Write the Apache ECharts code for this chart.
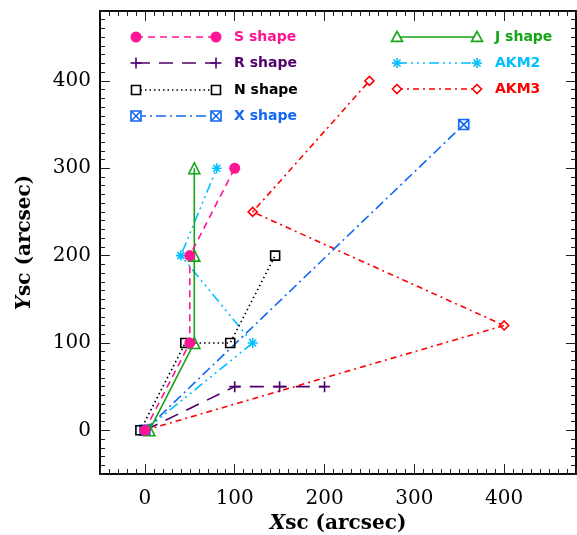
<!DOCTYPE html>
<html><head><meta charset="utf-8">
<script src="https://cdn.jsdelivr.net/npm/echarts@6/dist/echarts.min.js"></script>
<style>html,body{margin:0;padding:0;background:#fff}#c{width:577px;height:535px}</style>
</head><body><div id="c"></div>
<script>
// ---- data ----
const seriesNames = ['S shape','R shape','N shape','X shape','J shape','AKM2','AKM3'];
const sX = [0, 50, 50, 100];     const sY = [0, 100, 200, 300];
const rX = [0, 100, 150, 200];   const rY = [0, 50, 50, 50];
const nX = [-5, 45, 95, 145];    const nY = [0, 100, 100, 200];
const xX = [0, 355];             const xY = [0, 350];
const jX = [5, 55, 55, 55];      const jY = [0, 100, 200, 300];
const a2X = [0, 120, 40, 80];    const a2Y = [0, 100, 200, 300];
const a3X = [0, 400, 120, 250];  const a3Y = [0, 120, 250, 400];
const xTickLabels = [0, 100, 200, 300, 400];
const yTickLabels = [0, 100, 200, 300, 400];
const axisMin = -50, axisMax = 480, minorStep = 10;
const minorTickValues = [];
for (let v = axisMin; v <= axisMax; v += minorStep) minorTickValues.push(v);

// ---- styles ----
const P = {
  plus: 'M0,5L10,5M5,0L5,10',
  square: 'M0,0L10,0L10,10L0,10Z',
  xsquare: 'M0,0L10,0L10,10L0,10ZM0,0L10,10M10,0L0,10',
  triangle: 'M5,0L10,9L0,9Z',
  star: 'M5,0L5,10M0,5L10,5M1.5,1.5L8.5,8.5M8.5,1.5L1.5,8.5',
  diamond: 'M5,0L10,5L5,10L0,5Z'
};
const styles = {
  'S shape': {color:'#ff1493', dash:[7,5], sym:'circle', size:11},
  'R shape': {color:'#50006a', dash:[14,9], sym:'plus', size:11},
  'N shape': {color:'#000000', dash:[1.5,3], sym:'square', size:9},
  'X shape': {color:'#1068f5', dash:[10,4,2,4], sym:'xsquare', size:10},
  'J shape': {color:'#14a514', dash:null, sym:'triangle', size:11},
  'AKM2':    {color:'#00bfff', dash:[10,4,2,4,2,4,2,4], sym:'star', size:10},
  'AKM3':    {color:'#ff0000', dash:[6,4,2,4], sym:'diamond', size:9}
};
const dataMap = {
  'S shape':[sX,sY], 'R shape':[rX,rY], 'N shape':[nX,nY], 'X shape':[xX,xY],
  'J shape':[jX,jY], 'AKM2':[a2X,a2Y], 'AKM3':[a3X,a3Y]
};
const drawOrder = ['AKM3','AKM2','X shape','R shape','N shape','J shape','S shape'];

function mkSeries(name){
  const st = styles[name];
  const [xs, ys] = dataMap[name];
  const s = {
    name, type:'line', xAxisIndex:0, yAxisIndex:0,
    data: xs.map((x,i)=>[x, ys[i]]),
    symbolSize: st.size, animation:false, silent:true,
    lineStyle: {color: st.color, width:1.6, type: st.dash ? st.dash : 'solid'},
  };
  if (st.sym === 'circle') {
    s.symbol = 'circle';
    s.itemStyle = {color: st.color};
  } else {
    s.symbol = 'path://' + P[st.sym];
    s.symbolKeepAspect = false;
    s.itemStyle = {color:'rgba(0,0,0,0)', borderColor: st.color, borderWidth: 1.6};
  }
  return s;
}

// legend graphic (built from primitive shapes)
const legendLeft = ['S shape','R shape','N shape','X shape'];
const legendRight = ['J shape','AKM2','AKM3'];
const graphics = [];
function seg(x1,y1,x2,y2,color){
  return {type:'line', shape:{x1,y1,x2,y2}, style:{stroke:color, lineWidth:1.6}, z:100};
}
function marker(sym, cx, cy, size, color){
  const h = size/2;
  const stroke = {fill:'#fff', stroke:color, lineWidth:1.6};
  switch(sym){
    case 'circle': return [{type:'circle', shape:{cx, cy, r:h}, style:{fill:color}, z:100}];
    case 'square': return [{type:'rect', shape:{x:cx-h, y:cy-h, width:size, height:size}, style:stroke, z:100}];
    case 'xsquare': return [{type:'rect', shape:{x:cx-h, y:cy-h, width:size, height:size}, style:stroke, z:100},
                            seg(cx-h,cy-h,cx+h,cy+h,color), seg(cx+h,cy-h,cx-h,cy+h,color)];
    case 'plus': return [seg(cx-h,cy,cx+h,cy,color), seg(cx,cy-h,cx,cy+h,color)];
    case 'triangle': return [{type:'polygon', shape:{points:[[cx,cy-h],[cx+h,cy+h*0.8],[cx-h,cy+h*0.8]]}, style:stroke, z:100}];
    case 'diamond': return [{type:'polygon', shape:{points:[[cx,cy-h],[cx+h,cy],[cx,cy+h],[cx-h,cy]]}, style:stroke, z:100}];
    case 'star': { const d = h*0.7;
      return [seg(cx,cy-h,cx,cy+h,color), seg(cx-h,cy,cx+h,cy,color),
              seg(cx-d,cy-d,cx+d,cy+d,color), seg(cx+d,cy-d,cx-d,cy+d,color)]; }
  }
  return [];
}
function addLegend(names, x1, x2, tx, ys){
  names.forEach((n,i)=>{
    const st = styles[n]; const y = ys[i];
    graphics.push({type:'line', shape:{x1, y1:y, x2, y2:y},
      style:{stroke:st.color, lineWidth:1.6, lineDash: st.dash || null}, z:99});
    marker(st.sym, x1, y, st.size, st.color).forEach(e=>graphics.push(e));
    marker(st.sym, x2, y, st.size, st.color).forEach(e=>graphics.push(e));
    graphics.push({type:'text', x:tx, y:y, z:100,
      style:{text:n, fill:st.color, font:'bold 14px "DejaVu Sans"', textAlign:'left', textVerticalAlign:'middle'}});
  });
}
addLegend(legendLeft, 136, 216, 234, [37, 63, 90, 116]);
addLegend(legendRight, 397, 477, 495, [37, 63, 89]);

const font = {fontFamily:'DejaVu Serif', fontSize:20, color:'#000'};
function valAxis(extra){
  return Object.assign({type:'value', min:axisMin, max:axisMax, splitLine:{show:false},
    axisLine:{show:true, onZero:false, lineStyle:{color:'#000', width:1.6}}}, extra);
}
const minorTick = {show:true, inside:true, length:5, customValues:minorTickValues, lineStyle:{color:'#222', width:1}};
const majorTickX = {show:true, inside:true, length:10, customValues:xTickLabels, lineStyle:{color:'#222', width:1}};
const majorTickY = {show:true, inside:true, length:10, customValues:yTickLabels, lineStyle:{color:'#222', width:1}};
const nameStyle = {fontFamily:'DejaVu Serif', fontSize:20, fontWeight:'bold', color:'#000',
  rich:{i:{fontFamily:'DejaVu Serif', fontSize:20, fontWeight:'bold', fontStyle:'italic', color:'#000'}}};

const option = {
  backgroundColor:'#fff',
  animation:false,
  grid:{left:100, right:1, top:11, bottom:61, containLabel:false, outerBoundsMode:'none'},
  xAxis:[
    valAxis({position:'bottom', axisTick:majorTickX,
      axisLabel:Object.assign({show:true, customValues:xTickLabels, margin:15}, font),
      name:'{i|X}sc (arcsec)', nameLocation:'middle', nameGap:37, nameTextStyle:nameStyle}),
    valAxis({position:'bottom', axisTick:minorTick, axisLabel:{show:false}}),
    valAxis({position:'top', axisTick:minorTick, axisLabel:{show:false}}),
    valAxis({position:'top', axisTick:majorTickX, axisLabel:{show:false}})
  ],
  yAxis:[
    valAxis({position:'left', axisTick:majorTickY,
      axisLabel:Object.assign({show:true, customValues:yTickLabels, margin:9}, font),
      name:'{i|Y}sc (arcsec)', nameLocation:'middle', nameGap:65, nameRotate:90, nameTextStyle:nameStyle}),
    valAxis({position:'left', axisTick:minorTick, axisLabel:{show:false}}),
    valAxis({position:'right', axisTick:minorTick, axisLabel:{show:false}}),
    valAxis({position:'right', axisTick:majorTickY, axisLabel:{show:false}})
  ],
  series: drawOrder.map(mkSeries),
  graphic: graphics
};
const chart = echarts.init(document.getElementById('c'), null, {renderer:'canvas'});
chart.setOption(option);
</script></body></html>
